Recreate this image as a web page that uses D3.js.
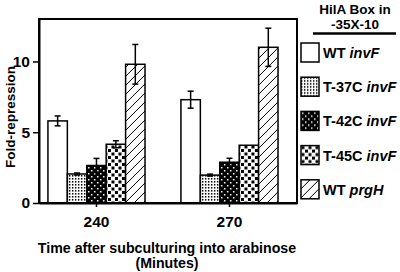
<!DOCTYPE html>
<html>
<head>
<meta charset="utf-8">
<script src="https://cdn.jsdelivr.net/npm/d3@7"></script>
<style>
  body { margin: 0; background: #fff; }
  svg { display: block; font-family: "Liberation Sans", Arial, sans-serif; font-weight: bold; }
</style>
</head>
<body>
<div id="chart"></div>
<script>
// data
const times = ["240", "270"];
const strains = ["WT invF", "T-37C invF", "T-42C invF", "T-45C invF", "WT prgH"];
const labelMain = ["WT ", "T-37C ", "T-42C ", "T-45C ", "WT "];
const labelGene = ["invF", "invF", "invF", "invF", "prgH"];
const values240 = [5.8, 2.05, 2.65, 4.15, 9.8];
const values270 = [7.3, 1.97, 2.88, 4.08, 11.0];
const errors240 = [0.35, 0.07, 0.5, 0.25, 1.4];
const errors270 = [0.6, 0.07, 0.28, 0, 1.35];
const yTicks = [0, 5, 10];

const W = 400, H = 272;
const margin = { top: 19, right: 103, bottom: 69, left: 39 };
const width = W - margin.left - margin.right,
      height = H - margin.top - margin.bottom;

const rows = times.map((t, i) => ({
  time: t,
  vals: i === 0 ? values240 : values270,
  errs: i === 0 ? errors240 : errors270
}));

const svg = d3.select("#chart").append("svg")
    .attr("width", W).attr("height", H);

// fill patterns
const defs = svg.append("defs");
const fills = ["#fff", "url(#p37)", "url(#p42)", "url(#p45)", "url(#phatch)"];

let p = defs.append("pattern").attr("id", "p37").attr("patternUnits", "userSpaceOnUse")
    .attr("width", 3).attr("height", 3);
p.append("rect").attr("width", 3).attr("height", 3).attr("fill", "#fff");
p.append("rect").attr("width", 1.4).attr("height", 1.6).attr("fill", "#000");

p = defs.append("pattern").attr("id", "p42").attr("patternUnits", "userSpaceOnUse")
    .attr("width", 6).attr("height", 6);
p.append("rect").attr("width", 6).attr("height", 6).attr("fill", "#000");
p.append("rect").attr("x", 1).attr("y", 1).attr("width", 1.5).attr("height", 1.5).attr("fill", "#fff");
p.append("rect").attr("x", 4).attr("y", 4).attr("width", 1.5).attr("height", 1.5).attr("fill", "#fff");

p = defs.append("pattern").attr("id", "p45").attr("patternUnits", "userSpaceOnUse")
    .attr("width", 7).attr("height", 7);
p.append("rect").attr("width", 7).attr("height", 7).attr("fill", "#fff");
p.append("rect").attr("x", 0.5).attr("y", 0.5).attr("width", 3).attr("height", 3).attr("fill", "#000");
p.append("rect").attr("x", 4).attr("y", 4).attr("width", 3).attr("height", 3).attr("fill", "#000");

p = defs.append("pattern").attr("id", "phatch").attr("patternUnits", "userSpaceOnUse")
    .attr("width", 9).attr("height", 9);
p.append("rect").attr("width", 9).attr("height", 9).attr("fill", "#fff");
p.append("path").attr("d", "M0,9L9,0M-2,2L2,-2M7,11L11,7")
    .attr("stroke", "#000").attr("stroke-width", 1);

const g = svg.append("g")
    .attr("transform", `translate(${margin.left},${margin.top})`);

// scales
const x0 = d3.scaleBand().domain(times).range([0, width])
    .paddingInner(0.27).paddingOuter(0.105).align(0.32);
const x1 = d3.scaleBand().domain(strains).range([0, x0.bandwidth()]);
const y = d3.scaleLinear().domain([0, 13]).range([height, 0]);

// bars
const groups = g.selectAll(".grp").data(rows).join("g")
    .attr("class", "grp")
    .attr("transform", d => `translate(${x0(d.time)},0)`);

groups.selectAll("rect").data(d => d.vals.map((v, i) => ({ v, e: d.errs[i], k: strains[i], i })))
  .join("rect")
    .attr("x", d => x1(d.k))
    .attr("y", d => y(d.v))
    .attr("width", x1.bandwidth())
    .attr("height", d => y(0) - y(d.v))
    .attr("fill", d => fills[d.i])
    .attr("stroke", "#000")
    .attr("stroke-width", 1.5);

// error bars
const eb = groups.selectAll(".err").data(d => d.vals.map((v, i) => ({ v, e: d.errs[i], k: strains[i] }))
    .filter(d => d.e > 0))
  .join("g").attr("class", "err")
    .attr("transform", d => `translate(${x1(d.k) + x1.bandwidth() / 2},0)`)
    .attr("stroke", "#000").attr("stroke-width", 1.5);
eb.append("line").attr("y1", d => y(d.v - d.e)).attr("y2", d => y(d.v + d.e));
eb.append("line").attr("x1", -3).attr("x2", 3).attr("y1", d => y(d.v + d.e)).attr("y2", d => y(d.v + d.e));
eb.append("line").attr("x1", -3).attr("x2", 3).attr("y1", d => y(d.v - d.e)).attr("y2", d => y(d.v - d.e));

// frame
g.append("rect")
    .attr("width", width).attr("height", height)
    .attr("fill", "none").attr("stroke", "#000").attr("stroke-width", 2);

// axes
const yAxis = d3.axisLeft(y).tickValues(yTicks).tickSize(6).tickSizeOuter(0).tickPadding(3);
g.append("g").call(yAxis)
    .call(a => a.select(".domain").attr("stroke-width", 2))
    .call(a => a.selectAll(".tick line").attr("stroke-width", 1.5))
    .call(a => a.selectAll(".tick text").attr("font-size", 15.5).attr("font-weight", "bold")
        .attr("font-family", "Liberation Sans, Arial, sans-serif").attr("fill", "#000"));

const xAxis = d3.axisBottom(x0).tickSize(4).tickSizeOuter(0).tickPadding(9);
g.append("g").attr("transform", `translate(0,${height})`).call(xAxis)
    .call(a => a.select(".domain").attr("stroke-width", 2))
    .call(a => a.selectAll(".tick line").attr("stroke-width", 1.5))
    .call(a => a.selectAll(".tick text").attr("font-size", 15.5).attr("font-weight", "bold")
        .attr("font-family", "Liberation Sans, Arial, sans-serif").attr("fill", "#000"));

// axis titles
svg.append("text")
    .attr("transform", `translate(15,${margin.top + height / 2 + 6}) rotate(-90)`)
    .attr("text-anchor", "middle").attr("font-size", 13.5)
    .text("Fold-repression");
svg.append("text")
    .attr("x", 167).attr("y", 253).attr("text-anchor", "middle").attr("font-size", 14.2)
    .text("Time after subculturing into arabinose");
svg.append("text")
    .attr("x", 167).attr("y", 268).attr("text-anchor", "middle").attr("font-size", 14.2)
    .text("(Minutes)");

// legend
const lg = svg.append("g").attr("transform", "translate(301,0)");
lg.append("text").attr("x", 54).attr("y", 14).attr("text-anchor", "middle").attr("font-size", 13.5)
    .text("HilA Box in");
lg.append("text").attr("x", 54).attr("y", 29).attr("text-anchor", "middle").attr("font-size", 13.5)
    .text("-35X-10");
lg.append("line").attr("x1", 12).attr("x2", 95).attr("y1", 33.5).attr("y2", 33.5)
    .attr("stroke", "#000").attr("stroke-width", 2.5);

const items = lg.selectAll(".item").data(strains).join("g")
    .attr("class", "item")
    .attr("transform", (d, i) => `translate(0,${43 + i * 34.2})`);
items.append("rect")
    .attr("width", 18).attr("height", 19)
    .attr("fill", (d, i) => fills[i])
    .attr("stroke", "#000").attr("stroke-width", 1.5);
const lt = items.append("text").attr("x", 22).attr("y", 15).attr("font-size", 14.5);
lt.append("tspan").text((d, i) => labelMain[i]);
lt.append("tspan").attr("font-style", "italic").text((d, i) => labelGene[i]);
</script>
</body>
</html>
